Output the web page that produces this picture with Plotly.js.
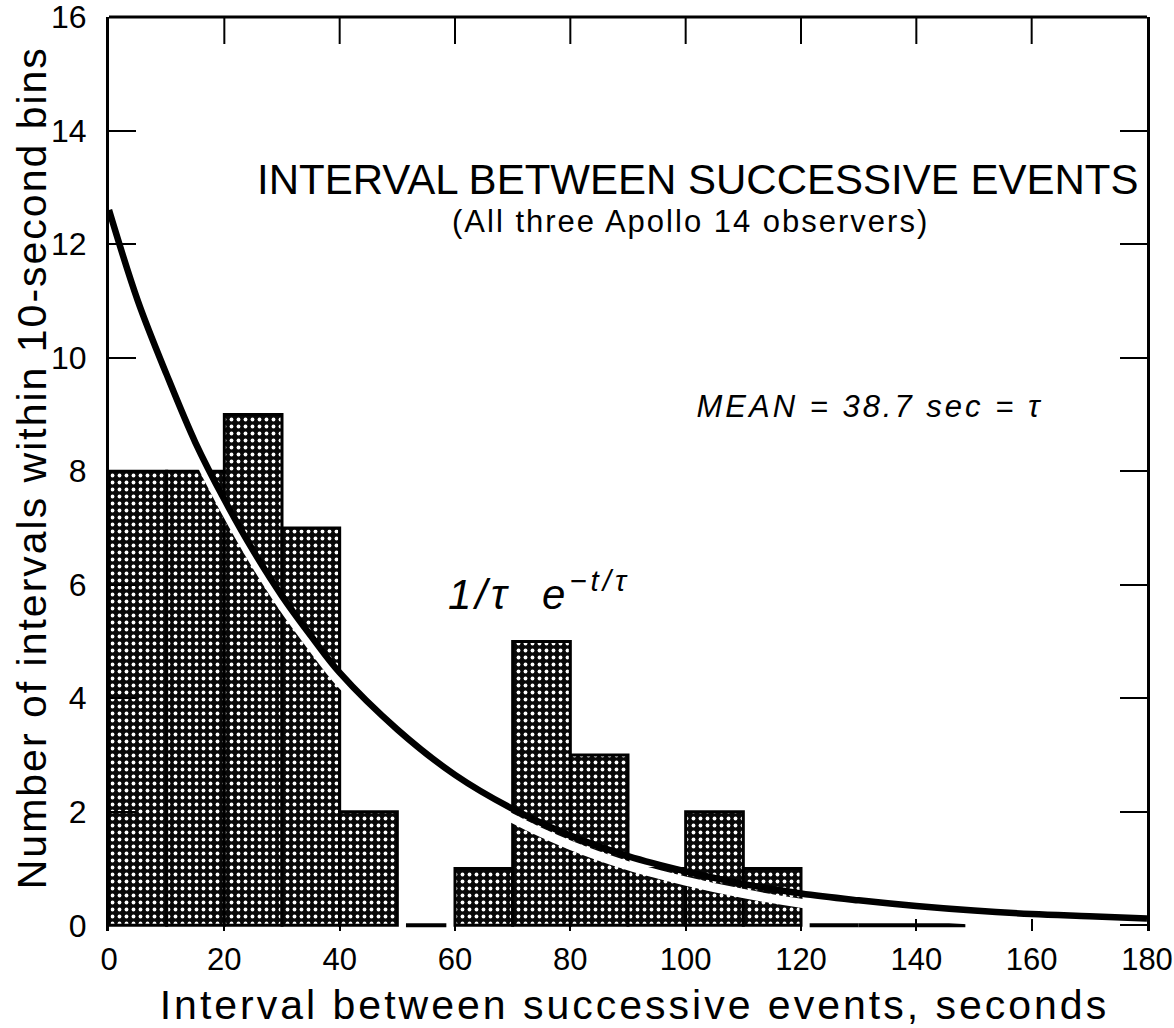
<!DOCTYPE html>
<html>
<head>
<meta charset="utf-8">
<script src="https://cdn.plot.ly/plotly-3.0.1.min.js"></script>
<style>
html,body{margin:0;padding:0;background:#fff;}
#chart{width:1174px;height:1028px;}
#chart .xtitle{letter-spacing:3px;}
#chart .annotation[data-index="1"] text{letter-spacing:2px;}
#chart .annotation[data-index="2"] text{letter-spacing:3px;}
#chart .annotation[data-index="3"] text{letter-spacing:4px;}
#chart .annotation[data-index="4"] text{letter-spacing:2px;}
</style>
</head>
<body>
<div id="chart"></div>
<script>
// ---- data ----
const binStart = [0, 10, 20, 30, 40, 50, 60, 70, 80, 90, 100, 110, 120, 130, 140];
const binWidth = 10;
const counts   = [8, 8, 9, 7, 2, 0, 1, 5, 3, 1, 2, 1, 0, 0, 0];

const curveT = [0, 5, 10, 15, 20, 25, 30, 35, 40, 50, 60, 70, 80, 90, 100, 110, 120, 130, 140, 150, 160, 170, 180];
const curveN = [12.6, 11.0, 9.7, 8.5, 7.5, 6.6, 5.8, 5.1, 4.45, 3.45, 2.65, 2.05, 1.58, 1.22, 0.95, 0.73, 0.56, 0.44, 0.34, 0.26, 0.20, 0.16, 0.12];

const xTicks = [0, 20, 40, 60, 80, 100, 120, 140, 160, 180];
const yTicks = [0, 2, 4, 6, 8, 10, 12, 14, 16];

const titleText    = "INTERVAL BETWEEN SUCCESSIVE EVENTS";
const subtitleText = "(All three Apollo 14 observers)";
const meanText     = "MEAN = 38.7 sec = τ";
const formulaText  = "1/τ  e<sup>−t/τ</sup>";
const xTitle = "Interval between successive events, seconds";
const yTitle = "Number of intervals within 10-second bins";

// ---- build traces ----
const barX = [], barY = [];
binStart.forEach((s, i) => { if (counts[i] > 0) { barX.push(s + binWidth / 2); barY.push(counts[i]); } });

const zx = [], zy = [];
binStart.forEach((s, i) => {
  if (counts[i] === 0) {
    const prevZero = i > 0 && counts[i - 1] === 0;
    const nextZero = i < counts.length - 1 && counts[i + 1] === 0;
    zx.push(s + (prevZero ? 0 : 1.5), s + binWidth - (nextZero ? 0 : 1.5), null);
    zy.push(0, 0, null);
  }
});

const FONT = "Liberation Sans, Arial, Helvetica, sans-serif";

const traces = [
  {
    type: 'bar', x: barX, y: barY, width: binWidth,
    marker: {
      color: '#111',
      line: {color: '#000', width: 3},
      pattern: {shape: '.', fillmode: 'replace', bgcolor: '#080808', fgcolor: '#ffffff', size: 7, solidity: 0.24}
    },
    hoverinfo: 'skip', showlegend: false
  },
  {
    type: 'scatter', mode: 'lines', x: zx, y: zy,
    line: {color: '#000', width: 4}, hoverinfo: 'skip', showlegend: false, cliponaxis: false
  },
  {
    type: 'scatter', mode: 'lines', x: curveT, y: curveN, yaxis: 'y2',
    line: {color: '#fff', width: 9, shape: 'spline'}, hoverinfo: 'skip', showlegend: false
  },
  {
    type: 'scatter', mode: 'lines', x: curveT, y: curveN, yaxis: 'y3',
    line: {color: '#000', width: 6.5, shape: 'spline'}, hoverinfo: 'skip', showlegend: false
  }
];

// top frame line + inward ticks (drawn as shapes at the x tick values)
const TOP_TICK = 27 / 914;
const shapes = [
  {type: 'line', xref: 'paper', yref: 'paper', x0: 0, x1: 1, y0: 1, y1: 1, line: {color: '#000', width: 3}}
].concat(xTicks.slice(1, -1).map(v => ({
  type: 'line', xref: 'x', yref: 'paper', x0: v, x1: v, y0: 1, y1: 1 - TOP_TICK, line: {color: '#000', width: 2}
})));

const yRange = [-0.1, 16];
const layout = {
  width: 1174, height: 1028,
  margin: {l: 109, r: 27, t: 17, b: 97},
  paper_bgcolor: '#fff', plot_bgcolor: 'rgba(0,0,0,0)',
  font: {family: FONT, color: '#000'},
  showlegend: false,
  bargap: 0,
  xaxis: {
    range: [0, 180], tickvals: xTicks, ticktext: xTicks.map(String),
    showline: false, showgrid: false, zeroline: false,
    ticks: 'inside', ticklen: 12, tickwidth: 2, tickcolor: '#000',
    tickfont: {size: 31, family: FONT}, ticklabelstandoff: 7, ticklabeloverflow: 'allow',
    title: {text: "&#8202;&#8202;" + xTitle, font: {size: 41, family: FONT}, standoff: 14}
  },
  yaxis: {
    range: yRange, tickvals: yTicks, ticktext: yTicks.map(String),
    showline: true, linewidth: 3, linecolor: '#000', mirror: 'ticks',
    ticks: 'inside', ticklen: 27, tickwidth: 2, tickcolor: '#000',
    showgrid: false, zeroline: false,
    tickfont: {size: 32, family: FONT}, ticklabelstandoff: 13, ticklabeloverflow: 'allow'
  },
  yaxis2: {overlaying: 'y', range: [yRange[0] + 0.17, yRange[1] + 0.17], visible: false},
  yaxis3: {overlaying: 'y', range: yRange, visible: false},
  shapes: shapes,
  annotations: [
    {xref: 'paper', yref: 'paper', x: 0.567, y: 0.822, xanchor: 'center', yanchor: 'middle', showarrow: false,
     text: titleText, font: {size: 42, family: FONT}},
    {xref: 'paper', yref: 'paper', x: 0.560, y: 0.776, xanchor: 'center', yanchor: 'middle', showarrow: false,
     text: subtitleText, font: {size: 31, family: FONT}},
    {xref: 'paper', yref: 'paper', x: 0.592, y: 0.574, xanchor: 'left', yanchor: 'middle', showarrow: false,
     text: '<i>' + meanText + '</i>', font: {size: 31, family: FONT}},
    {xref: 'paper', yref: 'paper', x: 0.3435, y: 0.372, xanchor: 'left', yanchor: 'middle', showarrow: false,
     text: '<i>' + formulaText + '</i>', font: {size: 42, family: FONT}},
    {xref: 'paper', yref: 'paper', x: -0.0745, y: 0.507, xanchor: 'center', yanchor: 'middle', showarrow: false,
     textangle: -90, text: yTitle, font: {size: 41, family: FONT}}
  ]
};

Plotly.newPlot('chart', traces, layout, {displayModeBar: false, staticPlot: true});
</script>
</body>
</html>
